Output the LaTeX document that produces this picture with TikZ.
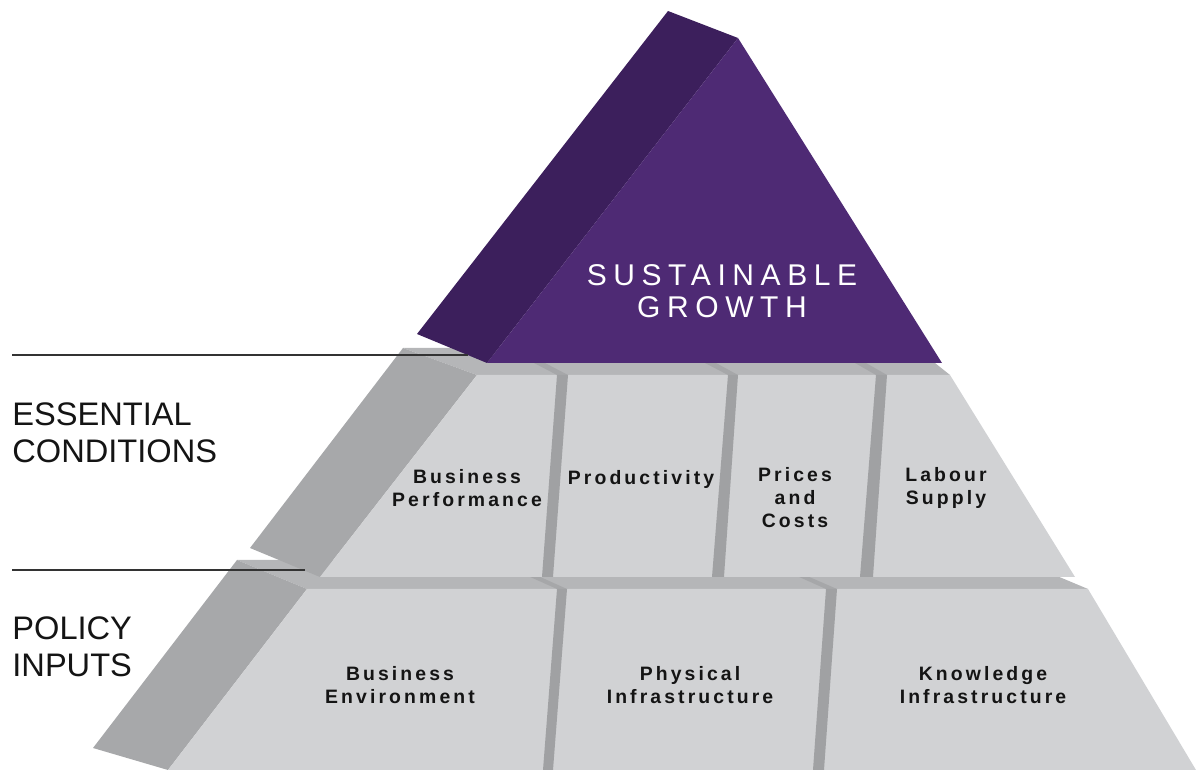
\documentclass[tikz,border=0pt]{standalone}
\usepackage{fontspec}
\setmainfont{Liberation Sans}
\newfontfamily\blockfont[LetterSpace=16]{Liberation Sans Bold}
\newfontfamily\headfont[LetterSpace=22]{Liberation Sans}
\definecolor{frontg}{HTML}{D1D2D4}
\definecolor{topg}{HTML}{B5B6B8}
\definecolor{sideg}{HTML}{A7A8AA}
\definecolor{divg}{HTML}{A0A1A3}
\definecolor{streakg}{HTML}{A6A7A9}
\definecolor{pdark}{HTML}{3C1F5C}
\definecolor{plight}{HTML}{4E2A74}
\definecolor{ink}{HTML}{141414}
\tikzset{
  face/.style={fill=#1, draw=none},
  blocklabel/.style={font=\blockfont\fontsize{9.7}{11.5}\selectfont, text=ink, align=center, inner sep=0pt},
  sidelabel/.style={font=\fontsize{16.3}{18.5}\selectfont, text=ink, align=left, anchor=west, inner sep=0pt},
  headlabel/.style={font=\headfont\fontsize{15}{16}\selectfont, text=white, align=center, inner sep=0pt},
  rule/.style={draw=black!80, line width=1pt}
}
\begin{document}
\begin{tikzpicture}[x=0.5pt, y=-0.5pt]
\useasboundingbox (0,0) rectangle (1196,770);
% ---------- bottom tier ----------
\fill[face=topg] (237,560) -- (700,560) -- (1057,576) -- (1088,589) -- (307,589) -- cycle;
\fill[face=sideg] (237,560) -- (307,589) -- (168,770) -- (93,748) -- cycle;
\fill[face=frontg] (307,589) -- (1088,589) -- (1196,770) -- (168,770) -- cycle;
\fill[face=streakg] (528,576) -- (538,576) -- (567,589) -- (557,589) -- cycle;
\fill[face=streakg] (797,576) -- (807,576) -- (837,589) -- (826,589) -- cycle;
\fill[face=divg] (557,589) -- (567,589) -- (553,770) -- (543,770) -- cycle;
\fill[face=divg] (826,589) -- (837,589) -- (824,770) -- (813,770) -- cycle;
% ---------- middle tier ----------
\fill[face=topg] (403,348) -- (930,348) -- (935,363) -- (950,375) -- (477,375) -- cycle;
\fill[face=sideg] (403,348) -- (477,375) -- (320,577) -- (250,548) -- cycle;
\fill[face=frontg] (477,375) -- (950,375) -- (1075,577) -- (320,577) -- cycle;
\fill[face=streakg] (534,363) -- (545,363) -- (568,375) -- (557,375) -- cycle;
\fill[face=streakg] (705,363) -- (716,363) -- (738,375) -- (728,375) -- cycle;
\fill[face=streakg] (855,363) -- (866,363) -- (887,375) -- (876,375) -- cycle;
\fill[face=divg] (557,375) -- (568,375) -- (553,577) -- (542,577) -- cycle;
\fill[face=divg] (728,375) -- (738,375) -- (724,577) -- (712,577) -- cycle;
\fill[face=divg] (876,375) -- (887,375) -- (873,577) -- (860,577) -- cycle;
% ---------- top ----------
\fill[face=pdark] (668,11) -- (738,38) -- (487,363) -- (417,334) -- cycle;
\fill[face=plight] (738,38) -- (942,363) -- (487,363) -- cycle;
% ---------- rules ----------
\coordinate (r1a) at (12,355);
\coordinate (r1b) at (468,355);
\coordinate (r2a) at (12,570);
\coordinate (r2b) at (305,570);
\draw[rule] (r1a) -- (r1b);
\draw[rule] (r2a) -- (r2b);
% ---------- labels ----------
\node[headlabel] (sg) at (722,291) {SUSTAINABLE\\GROWTH};
\node[sidelabel] (ec) at (12,433) {ESSENTIAL\\CONDITIONS};
\node[sidelabel] (pi) at (12,647) {POLICY\\INPUTS};
\node[blocklabel] (bp) at (467,488) {Business\\Performance};
\node[blocklabel] (pr) at (641,479) {Productivity};
\node[blocklabel] (pc) at (795,498) {Prices\\and\\Costs};
\node[blocklabel] (ls) at (946,488) {Labour\\Supply};
\node[blocklabel] (be) at (400,685) {Business\\Environment};
\node[blocklabel] (ph) at (690,685) {Physical\\Infrastructure};
\node[blocklabel] (kn) at (983,685) {Knowledge\\Infrastructure};
\end{tikzpicture}
\end{document}
